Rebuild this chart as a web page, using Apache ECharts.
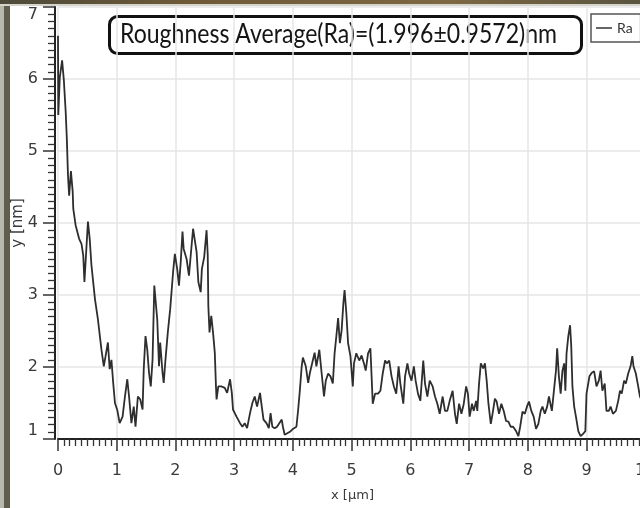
<!DOCTYPE html>
<html>
<head>
<meta charset="utf-8">
<script src="https://cdn.jsdelivr.net/npm/echarts@6/dist/echarts.min.js"></script>
<style>
  html, body { margin: 0; padding: 0; background: #ffffff; }
  #chart { width: 640px; height: 508px; }
</style>
</head>
<body>
<div id="chart"></div>
<script>
// Surface height profile (Ra scan)
const seriesName = 'Ra';
const headline = 'Roughness Average(Ra)=(1.996\u00b10.9572)nm';
const xTitle = 'x [\u00b5m]';
const yTitle = 'y [nm]';

// position along the scan, µm
const positionUm = [
  0.00, 0.005, 0.01, 0.03, 0.07, 0.10, 0.13, 0.15, 0.17, 0.19,
  0.22, 0.25, 0.26, 0.30, 0.36, 0.40, 0.43, 0.45, 0.48, 0.51,
  0.54, 0.57, 0.63, 0.68, 0.74, 0.78, 0.81, 0.85, 0.88, 0.91,
  0.94, 0.97, 1.01, 1.05, 1.10, 1.14, 1.18, 1.21, 1.25, 1.29,
  1.32, 1.36, 1.40, 1.44, 1.46, 1.49, 1.52, 1.55, 1.58, 1.61,
  1.64, 1.66, 1.69, 1.72, 1.74, 1.78, 1.80, 1.83, 1.87, 1.91,
  1.96, 1.99, 2.03, 2.06, 2.09, 2.12, 2.14, 2.19, 2.23, 2.26,
  2.30, 2.33, 2.36, 2.39, 2.43, 2.45, 2.49, 2.53, 2.55, 2.56,
  2.58, 2.61, 2.64, 2.67, 2.69, 2.70, 2.73, 2.78, 2.84, 2.88,
  2.93, 2.96, 2.98, 3.01, 3.04, 3.10, 3.14, 3.18, 3.22, 3.27,
  3.31, 3.35, 3.39, 3.44, 3.47, 3.50, 3.55, 3.59, 3.62, 3.65,
  3.69, 3.73, 3.76, 3.81, 3.83, 3.86, 3.89, 3.95, 4.00, 4.06,
  4.09, 4.12, 4.15, 4.17, 4.22, 4.26, 4.29, 4.33, 4.37, 4.40,
  4.45, 4.49, 4.53, 4.56, 4.60, 4.64, 4.68, 4.71, 4.74, 4.77,
  4.80, 4.83, 4.86, 4.88, 4.91, 4.94, 4.98, 5.02, 5.04, 5.08,
  5.13, 5.17, 5.21, 5.24, 5.28, 5.32, 5.36, 5.40, 5.45, 5.49,
  5.53, 5.57, 5.60, 5.64, 5.68, 5.72, 5.76, 5.80, 5.83, 5.88,
  5.91, 5.95, 5.98, 6.02, 6.06, 6.09, 6.13, 6.17, 6.22, 6.25,
  6.29, 6.33, 6.38, 6.42, 6.46, 6.50, 6.55, 6.59, 6.63, 6.67,
  6.72, 6.76, 6.79, 6.83, 6.87, 6.91, 6.95, 6.98, 7.01, 7.05,
  7.08, 7.12, 7.14, 7.17, 7.20, 7.24, 7.27, 7.30, 7.33, 7.37,
  7.40, 7.44, 7.47, 7.51, 7.55, 7.59, 7.63, 7.67, 7.71, 7.75,
  7.80, 7.84, 7.87, 7.91, 7.95, 7.99, 8.02, 8.06, 8.10, 8.14,
  8.18, 8.22, 8.25, 8.29, 8.33, 8.36, 8.41, 8.44, 8.48, 8.50,
  8.53, 8.56, 8.59, 8.62, 8.64, 8.66, 8.69, 8.72, 8.74, 8.76,
  8.79, 8.82, 8.86, 8.90, 8.94, 8.98, 9.00, 9.05, 9.09, 9.13,
  9.17, 9.21, 9.24, 9.27, 9.31, 9.34, 9.38, 9.41, 9.45, 9.50,
  9.54, 9.57, 9.60, 9.64, 9.67, 9.71, 9.75, 9.78, 9.80, 9.84,
  9.88, 9.91, 9.96, 10.00
];

// measured height, nm
const heightNm = [
  6.60, 5.50, 5.60, 6.02, 6.26, 5.98, 5.56, 5.18, 4.66, 4.38,
  4.72, 4.44, 4.20, 3.97, 3.78, 3.71, 3.55, 3.18, 3.60, 4.02,
  3.78, 3.41, 2.94, 2.66, 2.24, 2.01, 2.15, 2.34, 1.97, 2.10,
  1.78, 1.50, 1.40, 1.22, 1.31, 1.59, 1.83, 1.59, 1.22, 1.45,
  1.17, 1.59, 1.55, 1.41, 1.97, 2.43, 2.24, 1.92, 1.73, 2.10,
  3.13, 2.94, 2.66, 2.01, 2.34, 1.92, 1.78, 2.10, 2.48, 2.80,
  3.32, 3.57, 3.36, 3.13, 3.46, 3.88, 3.64, 3.50, 3.27, 3.27,
  3.92, 3.90, 3.60, 3.18, 3.04, 3.36, 3.53, 3.90, 3.55, 2.85,
  2.48, 2.71, 2.48, 2.20, 1.73, 1.55, 1.73, 1.73, 1.71, 1.64,
  1.83, 1.64, 1.41, 1.36, 1.31, 1.22, 1.17, 1.22, 1.15, 1.36,
  1.50, 1.59, 1.45, 1.64, 1.45, 1.27, 1.22, 1.15, 1.36, 1.17,
  1.15, 1.17, 1.15, 1.27, 1.17, 1.06, 1.07, 1.10, 1.14, 1.17,
  1.41, 1.69, 2.01, 2.13, 2.01, 1.78, 1.92, 2.06, 2.20, 2.01,
  2.24, 1.91, 1.59, 1.81, 1.91, 1.87, 1.77, 2.19, 2.43, 2.68,
  2.33, 2.51, 2.89, 3.07, 2.75, 2.33, 2.15, 1.73, 2.05, 2.19,
  2.09, 2.16, 2.05, 1.95, 2.19, 2.26, 1.49, 1.63, 1.63, 1.67,
  1.91, 2.09, 2.05, 2.09, 1.87, 1.73, 1.63, 2.01, 1.77, 1.49,
  1.87, 2.05, 1.91, 1.81, 2.01, 1.81, 1.63, 1.53, 2.09, 1.77,
  1.59, 1.81, 1.73, 1.59, 1.49, 1.35, 1.59, 1.39, 1.39, 1.53,
  1.67, 1.35, 1.21, 1.49, 1.35, 1.49, 1.73, 1.63, 1.31, 1.49,
  1.39, 1.53, 1.39, 1.77, 2.05, 1.98, 2.05, 1.81, 1.49, 1.21,
  1.35, 1.56, 1.52, 1.35, 1.49, 1.39, 1.25, 1.24, 1.17, 1.17,
  1.11, 1.04, 1.17, 1.38, 1.35, 1.46, 1.52, 1.39, 1.31, 1.14,
  1.21, 1.39, 1.45, 1.35, 1.45, 1.59, 1.39, 1.63, 1.95, 2.26,
  1.87, 1.63, 1.95, 2.05, 1.67, 2.19, 2.43, 2.58, 2.29, 1.73,
  1.45, 1.31, 1.11, 1.04, 1.07, 1.11, 1.63, 1.87, 1.92, 1.94,
  1.73, 1.81, 1.95, 1.67, 1.77, 1.39, 1.39, 1.45, 1.35, 1.39,
  1.53, 1.67, 1.63, 1.81, 1.77, 1.91, 2.01, 2.15, 2.01, 1.91,
  1.73, 1.59, 1.50, 1.55
];

const profile = positionUm.map((x, i) => [x, heightNm[i]]);

const tickFont = { fontFamily: 'DejaVu Sans', fontSize: 16, color: '#3a3a3a' };
const axisInk = '#222222';
const gridInk = '#e6e6e6';

// Headline box: a condensed face is not available, so the text is
// squeezed horizontally to fit a 437 px run inside the rounded frame.
const headlineFont = '26px Lato';
const headlineRun = 437;
const measureCtx = document.createElement('canvas').getContext('2d');
measureCtx.font = headlineFont;
const headlineScale = headlineRun / measureCtx.measureText(headline).width;

const chart = echarts.init(document.getElementById('chart'), null, { renderer: 'canvas' });

chart.setOption({
  backgroundColor: '#ffffff',
  animation: false,
  legend: {
    data: [seriesName],
    left: 591,
    top: 14,
    padding: [7, 8, 7, 5],
    borderColor: '#555555',
    borderWidth: 1.5,
    icon: 'rect',
    itemWidth: 16,
    itemHeight: 1.5,
    itemGap: 4,
    itemStyle: { color: '#333333' },
    textStyle: { fontFamily: 'Lato', fontSize: 14, color: '#333333' }
  },
  grid: {
    left: 58,
    top: 7,
    width: 589,
    height: 432,
    containLabel: false,
    outerBoundsMode: 'none'
  },
  xAxis: {
    type: 'value',
    min: 0,
    max: 10.03,
    interval: 1,
    name: xTitle,
    nameLocation: 'middle',
    nameGap: 50,
    nameMoveOverlap: false,
    nameTextStyle: { fontFamily: 'DejaVu Sans', fontSize: 13, color: '#3a3a3a' },
    axisLine: { onZero: false, lineStyle: { color: axisInk, width: 2 } },
    axisTick: { length: 12, lineStyle: { color: '#333333', width: 1.5 } },
    minorTick: { show: true, splitNumber: 10, length: 7, lineStyle: { color: '#333333', width: 1.3 } },
    splitLine: { show: true, lineStyle: { color: gridInk, width: 1.5 } },
    axisLabel: Object.assign({}, tickFont, {
      margin: 24,
      formatter: v => (Math.abs(v - Math.round(v)) < 1e-9 ? String(Math.round(v)) : '')
    })
  },
  yAxis: {
    type: 'value',
    min: 1,
    max: 7,
    interval: 1,
    offset: 3,
    name: yTitle,
    nameLocation: 'middle',
    nameGap: 29,
    nameMoveOverlap: false,
    nameTextStyle: { fontFamily: 'DejaVu Sans', fontSize: 15, color: '#3a3a3a' },
    axisLine: { onZero: false, lineStyle: { color: axisInk, width: 2 } },
    axisTick: { length: 12, lineStyle: { color: '#333333', width: 1.5 } },
    minorTick: { show: true, splitNumber: 10, length: 7, lineStyle: { color: '#333333', width: 1.3 } },
    splitLine: { show: true, lineStyle: { color: gridInk, width: 1.5 } },
    axisLabel: Object.assign({}, tickFont, {
      margin: 17,
      verticalAlignMinLabel: 'bottom',
      verticalAlignMaxLabel: 'top'
    })
  },
  series: [{
    name: seriesName,
    type: 'line',
    data: profile,
    symbol: 'none',
    lineStyle: { color: '#2e2e2e', width: 1.8 },
    itemStyle: { color: '#2e2e2e' },
    z: 5
  }],
  graphic: [
    // headline in a rounded frame
    {
      type: 'group', x: 108, y: 15, z: 50,
      children: [
        {
          type: 'rect',
          shape: { x: 1.5, y: 1.5, width: 472, height: 37, r: 8 },
          style: { fill: '#ffffff', stroke: '#111111', lineWidth: 3 }
        },
        {
          type: 'text', x: 12, y: 20, scaleX: headlineScale,
          style: {
            text: headline, font: headlineFont, fill: '#151515',
            align: 'left', verticalAlign: 'middle'
          }
        }
      ]
    },
    // photographed page edge: brown strip along the top, dark strip on the left
    {
      type: 'rect', left: 0, top: 0, z: 100, silent: true,
      shape: { width: 640, height: 4 },
      style: {
        fill: new echarts.graphic.LinearGradient(0, 0, 1, 0, [
          { offset: 0, color: '#4d4a3a' },
          { offset: 0.3, color: '#6e5a38' },
          { offset: 0.7, color: '#7d6843' },
          { offset: 1, color: '#5a5540' }
        ])
      }
    },
    {
      type: 'rect', left: 0, top: 4, z: 100, silent: true,
      shape: { width: 640, height: 2 },
      style: { fill: '#d4d3cc' }
    },
    {
      type: 'rect', left: 0, top: 0, z: 99, silent: true,
      shape: { width: 4, height: 508 },
      style: { fill: '#b9b8ad' }
    },
    {
      type: 'rect', left: 4, top: 0, z: 99, silent: true,
      shape: { width: 6, height: 508 },
      style: { fill: '#5e5d4e' }
    }
  ]
});
</script>
</body>
</html>
